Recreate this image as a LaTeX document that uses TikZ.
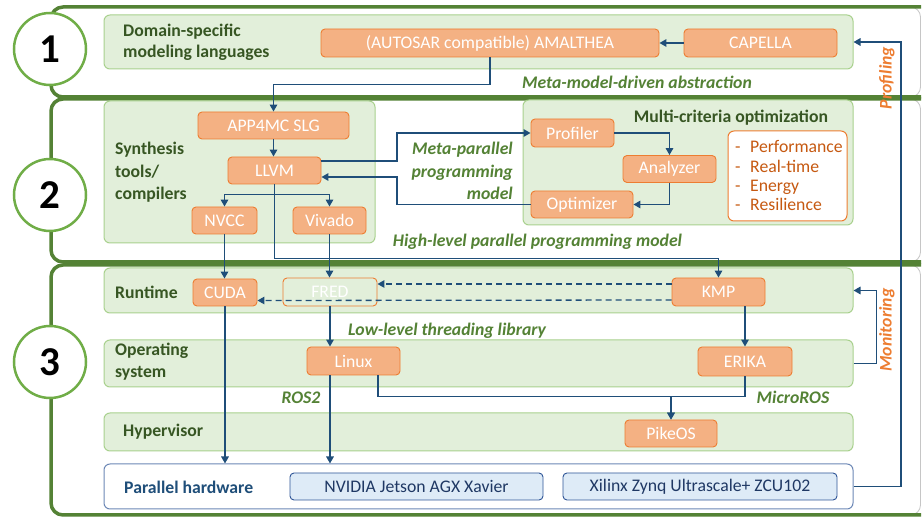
\documentclass[tikz,border=0pt]{standalone}
\usepackage{fontspec}
\setmainfont{Carlito}
\usetikzlibrary{arrows.meta,calc}
\definecolor{orangeF}{HTML}{F4B183}
\definecolor{orangeB}{HTML}{ED7D31}
\definecolor{orangeT}{HTML}{C65911}
\definecolor{grpF}{HTML}{E2EFDA}
\definecolor{grpB}{HTML}{A9D18E}
\definecolor{frameG}{HTML}{548235}
\definecolor{circG}{HTML}{70AD47}
\definecolor{darkG}{HTML}{375623}
\definecolor{labG}{HTML}{548235}
\definecolor{arrC}{HTML}{1F4E79}
\definecolor{hwB}{HTML}{2F5597}
\definecolor{hwF}{HTML}{DEEBF7}
\definecolor{hwT}{HTML}{1F3864}
\newcommand\myfs{\fontsize{17.7}{21}\selectfont}
\tikzset{
  frm/.style={draw=frameG, line width=3.5pt, rounded corners=12pt},
  grp/.style={draw=grpB, fill=grpF, rounded corners=6pt, line width=1pt, inner sep=0pt},
  obox/.style={draw=orangeB, fill=orangeF, rounded corners=4pt, line width=0.9pt, text=white, font=\myfs, inner sep=0pt},
  hbox/.style={draw=hwB, fill=hwF, rounded corners=4pt, line width=0.9pt, text=hwT, font=\myfs, inner sep=0pt},
  ttl/.style={text=darkG, font=\myfs\bfseries, align=left, anchor=west, inner sep=0pt},
  lab/.style={text=labG, font=\myfs\bfseries\itshape, inner sep=0pt},
  rlab/.style={text=orangeB, font=\myfs\bfseries\itshape, inner sep=0pt, rotate=90},
  arr/.style={draw=arrC, line width=1.6pt, -{Triangle[length=7pt,width=7.5pt]}},
  darr/.style={draw=arrC, line width=1.3pt, dash pattern=on 6pt off 4pt, -{Triangle[length=7pt,width=7.5pt]}},
  num/.style={circle, draw=circG, fill=white, line width=2.5pt, minimum size=72pt, inner sep=0pt, font=\fontsize{41}{41}\selectfont\bfseries},
  litem/.style={text=orangeT, font=\myfs, anchor=base west, inner sep=0pt}
}
\begin{document}
\begin{tikzpicture}[x=1pt,y=-1pt]
\useasboundingbox[fill=white] (0,0) rectangle (922,518);
% layer frames
\foreach \t/\b in {7/97, 99/262, 265/515}{
  \draw[gray!45, line width=0.8pt, rounded corners=10pt] (880,\t) -- (920.5,\t) -- (920.5,\b) -- (880,\b);
  \draw[frm] (921,\t) -- (51,\t) -- (51,\b) -- (921,\b);
}
% group boxes
\node[grp, minimum width=749pt, minimum height=54pt] (row1) at (478.5,42) {};
\node[grp, minimum width=271pt, minimum height=142pt] (synth) at (239.5,172) {};
\node[grp, minimum width=330pt, minimum height=125pt] (multi) at (688,162.5) {};
\node[grp, minimum width=749pt, minimum height=45pt] (rt) at (478.5,290.5) {};
\node[grp, minimum width=749pt, minimum height=47pt] (os) at (478.5,363.5) {};
\node[grp, minimum width=749pt, minimum height=38pt] (hyp) at (478.5,432) {};
\node[draw=hwB!70, fill=white, rounded corners=6pt, line width=1pt, minimum width=749pt, minimum height=45pt, inner sep=0pt] (hw) at (478.5,486.5) {};
\node[draw=orangeB, fill=white, rounded corners=6pt, line width=1pt, minimum width=119pt, minimum height=90pt, inner sep=0pt] (list) at (787.5,176) {};
% titles
\node[ttl] (t1) at (123,42) {Domain-specific\\modeling languages};
\node[ttl, font=\fontsize{17.7}{22.5}\selectfont\bfseries] (t2) at (115,172.5) {Synthesis\\tools/\\compilers};
\node[text=darkG, font=\myfs\bfseries, inner sep=0pt] (t3) at (731,118) {Multi-criteria optimization};
\node[ttl] (t4) at (115,292) {Runtime};
\node[ttl, font=\fontsize{17.7}{22}\selectfont\bfseries] (t5) at (115,362) {Operating\\system};
\node[ttl] (t6) at (123,432) {Hypervisor};
\node[ttl, text=arrC] (t7) at (124,487) {Parallel hardware};
% boxes
\node[obox, minimum width=338pt, minimum height=28pt] (amal) at (490,43) {(AUTOSAR compatible) AMALTHEA};
\node[obox, minimum width=153pt, minimum height=28pt] (capella) at (760.5,43) {CAPELLA};
\node[obox, minimum width=151pt, minimum height=27pt] (app) at (273.5,125.5) {APP4MC SLG};
\node[obox, minimum width=93pt, minimum height=27pt] (llvm) at (274.5,170.5) {LLVM};
\node[obox, minimum width=65pt, minimum height=27pt] (nvcc) at (224.5,220.5) {NVCC};
\node[obox, minimum width=73pt, minimum height=27pt] (vivado) at (329.5,220.5) {Vivado};
\node[obox, minimum width=83pt, minimum height=28pt] (profiler) at (572.5,133) {Profiler};
\node[obox, minimum width=93pt, minimum height=27pt] (analyzer) at (669.5,169) {Analyzer};
\node[obox, minimum width=102pt, minimum height=27pt] (optimizer) at (582,204.5) {Optimizer};
\node[obox, minimum width=64pt, minimum height=27pt] (cuda) at (225,292.5) {CUDA};
\node[obox, fill=none, minimum width=94pt, minimum height=28pt] (fred) at (330,292) {FRED};
\node[obox, minimum width=93pt, minimum height=28pt] (kmp) at (718.5,292) {KMP};
\node[obox, minimum width=93pt, minimum height=28pt] (linux) at (353.5,361) {Linux};
\node[obox, minimum width=94pt, minimum height=29pt] (erika) at (745,361.5) {ERIKA};
\node[obox, minimum width=92pt, minimum height=27pt] (pikeos) at (671,433.5) {PikeOS};
\node[hbox, minimum width=253pt, minimum height=27pt] (nvidia) at (416.5,486.5) {NVIDIA Jetson AGX Xavier};
\node[hbox, minimum width=274pt, minimum height=27pt] (xilinx) at (700,486.5) {Xilinx Zynq Ultrascale+ ZCU102};
% list
\foreach \i/\w/\y in {1/Performance/153, 2/Real-time/173, 3/Energy/192, 4/Resilience/211}{
  \node[litem] (ld\i) at (735,\y) {-};
  \node[litem] (lt\i) at (750,\y) {\w};
}
% labels
\node[lab] (l1) at (637,82) {Meta-model-driven abstraction};
\node[lab, align=right, anchor=east, font=\fontsize{17.7}{22.5}\selectfont\bfseries\itshape] (l2) at (513,171) {Meta-parallel\\programming\\model};
\node[lab] (l3) at (537.5,242) {High-level parallel programming model};
\node[lab] (l4) at (447,331) {Low-level threading library};
\node[lab] (l5) at (301,398) {ROS2};
\node[lab] (l6) at (793,397) {MicroROS};
\node[rlab] (l7) at (887,78) {Profiling};
\node[rlab] (l8) at (887,330) {Monitoring};
% connectors
\draw[arr] (capella.west) -- (amal.east);
\draw[arr] (amal.south) -- ++(0,27) -| (app.north);
\draw[arr] (app.south) -- (app.south |- llvm.north);
\draw[arr] (llvm.south) -- ++(0,10) -| (nvcc.north);
\draw[arr] (llvm.south) ++(0,10) -| (vivado.north);
\draw[arr] (llvm.south) -- ++(0,74) -| (kmp.north);
\draw[arr] ($(llvm.east)+(0,-9.5)$) -- (397,161) |- (profiler.west);
\draw[arr] (optimizer.west) -- (397,204.5) |- ($(llvm.east)+(0,6.5)$);
\draw[arr] (profiler.east) -| (analyzer.north);
\draw[arr] (analyzer.south) |- (optimizer.east);
\draw[arr] (nvcc.south) -- (nvcc.south |- cuda.north);
\draw[arr] (vivado.south) -- (vivado.south |- fred.north);
\draw[arr] (cuda.south) -- (cuda.south |- hw.north);
\draw[arr] (fred.south) -- (fred.south |- linux.north);
\draw[arr] (fred.south |- linux.south) -- (fred.south |- hw.north);
\draw[darr] ($(kmp.west)+(0,-8)$) -- ($(fred.east)+(0,-8)$);
\draw[darr] ($(kmp.west)+(0,8)$) -- ($(cuda.east)+(0,8)$);
\draw[arr] (erika.north |- kmp.south) -- (erika.north);
\draw[arr] ($(linux.south)+(24.5,0)$) -- ++(0,21) -| (pikeos.north);
\draw[arr] (erika.south) -- ++(0,20) -| (pikeos.north);
\draw[arr] (os.east) -- ++(23,0) |- (rt.east);
\coordinate (pf) at (901,42);
\draw[arr] (hw.east) -| (pf) -- (row1.east);
% numbers
\node[num] (n1) at (50,49) {1};
\node[num] (n2) at (50,195) {2};
\node[num] (n3) at (50,362) {3};
\end{tikzpicture}
\end{document}
